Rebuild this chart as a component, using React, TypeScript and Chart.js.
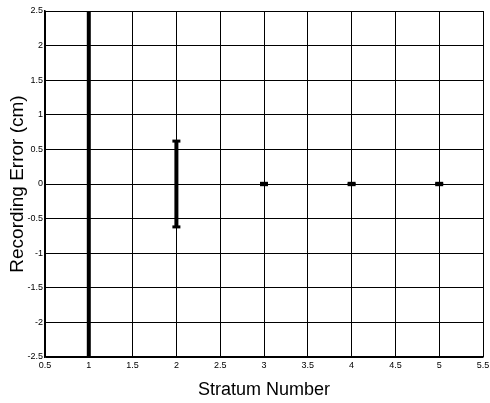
import React, { useEffect, useRef } from "react";
import { Chart, registerables } from "chart.js";

Chart.register(...registerables);

const strata = [1, 2, 3, 4, 5];
const errLow = [-4, -0.62, -0.01, -0.01, -0.01];
const errHigh = [4, 0.62, 0.01, 0.01, 0.01];
const xTicks = [0.5, 1, 1.5, 2, 2.5, 3, 3.5, 4, 4.5, 5, 5.5];
const yTicks = [-2.5, -2, -1.5, -1, -0.5, 0, 0.5, 1, 1.5, 2, 2.5];
const xTitle = "Stratum Number";
const yTitle = "Recording Error (cm)";

const FONT = "'Liberation Sans', Arial, sans-serif";

export default function App() {
  const ref = useRef<HTMLCanvasElement | null>(null);

  useEffect(() => {
    if (!ref.current) return;
    const datasets = strata.map((x, i) => ({
      type: "line" as const,
      data: [
        { x, y: errLow[i] },
        { x, y: errHigh[i] },
      ],
      borderColor: "#000",
      backgroundColor: "#000",
      borderWidth: 4,
      pointStyle: "line" as const,
      pointRadius: 4,
      pointBorderWidth: 3,
      pointBorderColor: "#000",
      pointHoverRadius: 4,
      clip: 0,
      showLine: true,
    }));

    const chart = new Chart(ref.current, {
      type: "scatter",
      data: { datasets },
      options: {
        animation: false,
        responsive: false,
        maintainAspectRatio: false,
        layout: { padding: { left: 0, right: 5, top: 11, bottom: 2 } },
        plugins: { legend: { display: false }, tooltip: { enabled: false } },
        scales: {
          x: {
            type: "linear",
            min: 0.5,
            max: 5.5,
            afterBuildTicks: (s: any) => {
              s.ticks = xTicks.map((v) => ({ value: v }));
            },
            afterFit: (s: any) => {
              s.height = 44;
              s.paddingLeft = 0;
              s.paddingRight = 0;
            },
            ticks: {
              color: "#000",
              font: { family: FONT, size: 9 },
              padding: 3,
              maxRotation: 0,
              autoSkip: false,
              callback: (v: any) => String(v),
            },
            grid: { color: "#000", lineWidth: 1, drawTicks: false },
            border: { color: "#000", width: 1.5 },
            title: {
              display: true,
              text: xTitle,
              color: "#000",
              font: { family: FONT, size: 18 },
              padding: { top: 0, bottom: 0 },
            },
          },
          y: {
            type: "linear",
            min: -2.5,
            max: 2.5,
            afterBuildTicks: (s: any) => {
              s.ticks = yTicks.map((v) => ({ value: v }));
            },
            afterFit: (s: any) => {
              s.width = 45;
              s.paddingTop = 0;
              s.paddingBottom = 0;
            },
            ticks: {
              color: "#000",
              font: { family: FONT, size: 9 },
              padding: 2,
              autoSkip: false,
              callback: (v: any) => String(v),
            },
            grid: { color: "#000", lineWidth: 1, drawTicks: false },
            border: { color: "#000", width: 1.5 },
            title: {
              display: true,
              text: yTitle,
              color: "#000",
              font: { family: FONT, size: 19 },
              padding: { top: 6, bottom: 0 },
            },
          },
        },
      },
    });
    return () => chart.destroy();
  }, []);

  return (
    <div style={{ position: "absolute", left: 0, top: 0, width: 490, height: 403, background: "#fff" }}>
      <canvas ref={ref} width={490} height={403} style={{ width: 490, height: 403 }} />
    </div>
  );
}
